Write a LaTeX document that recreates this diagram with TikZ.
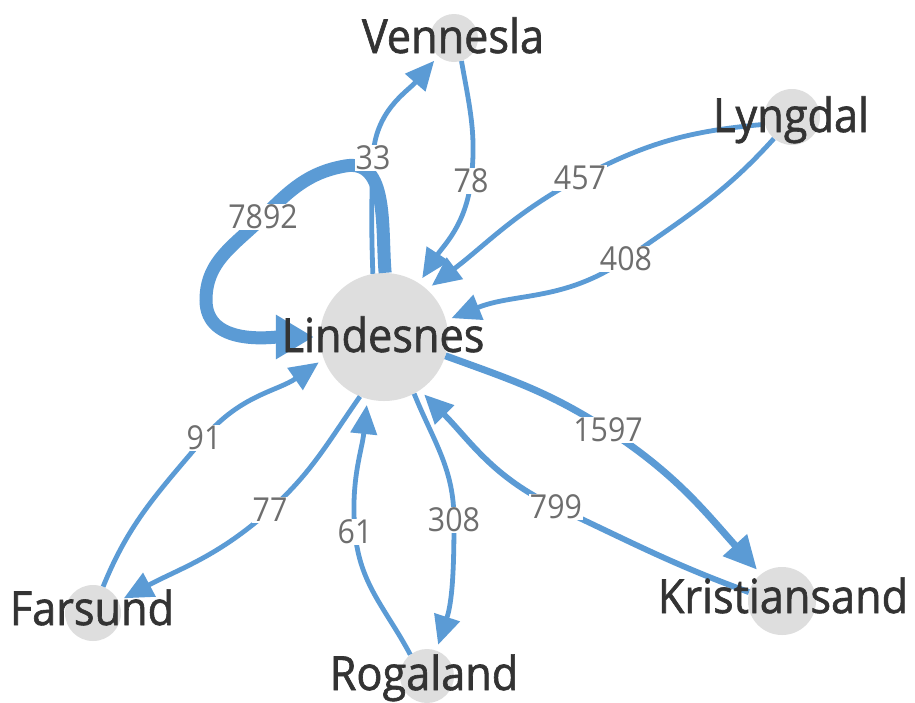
\documentclass[tikz,border=0pt]{standalone}
\usepackage{fontspec}
\newfontfamily\vfont{Open Sans}[FakeStretch=0.92]
\newfontfamily\cityfont{Open Sans}[FakeStretch=0.92,FakeBold=1.3]
\usetikzlibrary{arrows.meta}
\definecolor{edgeblue}{RGB}{91,155,213}
\definecolor{nodegray}{RGB}{222,222,222}
\definecolor{labelgray}{RGB}{110,110,110}
\definecolor{textdark}{RGB}{51,51,51}
\begin{document}
\begin{tikzpicture}[x=1pt,y=-1pt,
  circ/.style={circle, fill=nodegray, inner sep=0pt, minimum size=#1},
  cityname/.style={anchor=base, text=textdark, font=\cityfont\fontsize{47}{50}\selectfont, inner sep=0pt},
  elabel/.style={fill=white, text=labelgray, font=\vfont\fontsize{33}{36}\selectfont, inner sep=1pt},
  flow/.style={draw=edgeblue, line width=4.8pt, -{Triangle[length=29pt,width=26pt]}, shorten >=6pt},
]
\fill[white] (0,0) rectangle (915,702);
\useasboundingbox (0,0) rectangle (915,702);

% node circles
\node[circ=128pt] (cL) at (384,337) {};
\node[circ=48pt] (cV) at (454,38) {};
\node[circ=56pt] (cY) at (792,117) {};
\node[circ=68pt] (cK) at (782,601) {};
\node[circ=54pt] (cR) at (427,676) {};
\node[circ=56pt] (cF) at (93,613) {};

% label positions
\coordinate (p33) at (373,158);
\coordinate (p78) at (471,181);
\coordinate (p457) at (580,178);
\coordinate (p408) at (626,259);
\coordinate (p7892) at (263,217);
\coordinate (p1597) at (608,430);
\coordinate (p799) at (556,507);
\coordinate (p308) at (454,520);
\coordinate (p61) at (355,532);
\coordinate (p91) at (204,438);
\coordinate (p77) at (270,510);
\coordinate (l1) at (345,166);
\coordinate (l2) at (206,300);

% edges
\draw[flow, line width=13pt, -{Triangle[length=38pt,width=42pt]}]
  (cL.89) to[out=95,in=10] (l1) to[out=190,in=45] (p7892)
  to[out=225,in=90] (l2) to[out=-90,in=180] (cL.180);
\draw[flow] (cL.100) to[out=92,in=-92] (p33) to[out=88,in=-131] (cV.-131);
\draw[flow] (cV.-72) to[out=-80,in=83] (p78) to[out=-97,in=57] (cL.57);
\draw[flow] (cY.-165) to[out=185,in=28] (p457) to[out=208,in=37] (cL.48);
\draw[flow] (cY.-130) to[out=228,in=35] (p408) to[out=215,in=22] (cL.15);
\draw[flow, line width=7pt, -{Triangle[length=33pt,width=31pt]}]
  (cL.-17) to[out=-20,in=147] (p1597) to[out=-33,in=132] (cK.128);
\draw[flow, line width=5.8pt] (cK.165) to[out=160,in=-25] (p799) to[out=155,in=-45] (cL.-56);
\draw[flow] (cL.-62) to[out=-68,in=90] (p308) to[out=-90,in=72] (cR.70);
\draw[flow] (cR.128) to[out=118,in=-85] (p61) to[out=95,in=-96] (cL.-105);
\draw[flow] (cF.69) to[out=68,in=-130] (p91) to[out=50,in=-145] (cL.-160);
\draw[flow] (cL.-112) to[out=235,in=42] (p77) to[out=222,in=28] (cF.25);

% edge labels
\node[elabel] (t33) at (p33) {33};
\node[elabel] (t78) at (p78) {78};
\node[elabel] (t457) at (p457) {457};
\node[elabel] (t408) at (p408) {408};
\node[elabel] (t7892) at (p7892) {7892};
\node[elabel] (t1597) at (p1597) {1597};
\node[elabel] (t799) at (p799) {799};
\node[elabel] (t308) at (p308) {308};
\node[elabel] (t61) at (p61) {61};
\node[elabel] (t91) at (p91) {91};
\node[elabel] (t77) at (p77) {77};

% city names
\node[cityname] (nL) at (383,352) {Lindesnes};
\node[cityname] (nV) at (453,53) {Vennesla};
\node[cityname] (nY) at (791,132) {Lyngdal};
\node[cityname] (nF) at (92,625) {Farsund};
\node[cityname] (nK) at (783,613) {Kristiansand};
\node[cityname] (nR) at (424,690) {Rogaland};
\end{tikzpicture}
\end{document}
